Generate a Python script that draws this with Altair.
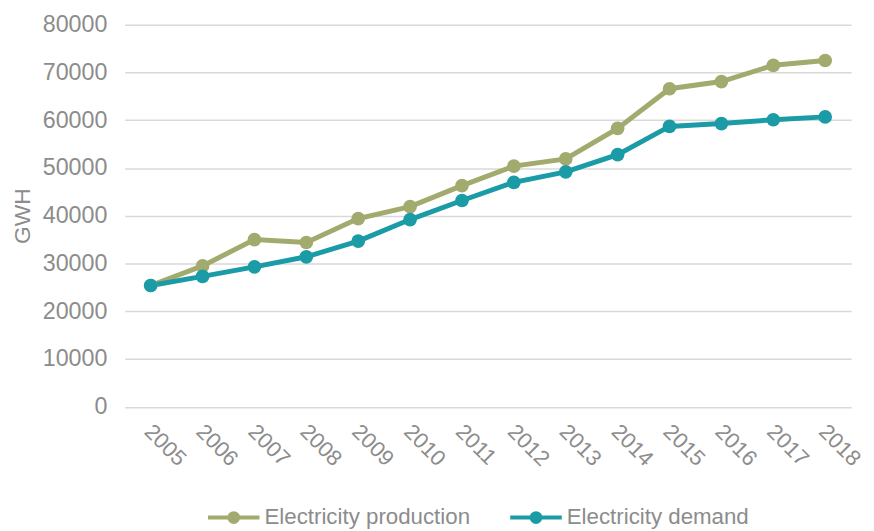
import altair as alt
import pandas as pd

years = [str(y) for y in range(2005, 2019)]
production = [25400, 29500, 35000, 34400, 39400, 41900, 46300, 50400, 51900, 58300, 66600, 68100, 71500, 72500]
demand = [25400, 27300, 29300, 31400, 34700, 39200, 43200, 47000, 49200, 52800, 58700, 59300, 60100, 60700]
series = ["Electricity production", "Electricity demand"]
colors = ["#A3AA6E", "#1A9BA6"]

rows = []
for i, y in enumerate(years):
    rows.append({"year": y, "series": series[0], "value": production[i]})
    rows.append({"year": y, "series": series[1], "value": demand[i]})
df = pd.DataFrame(rows)

legend_path = "M-1,0L1,0M-0.17,0A0.17,0.17 0 1 1 0.17,0A0.17,0.17 0 1 1 -0.17,0Z"
grey = "#8c8c8c"
font = "Liberation Sans"

chart = alt.Chart(df).mark_line(
    strokeWidth=5,
    point=alt.OverlayMarkDef(filled=True, size=190, opacity=1),
).encode(
    x=alt.X("year:O", title=None, sort=years,
            scale=alt.Scale(paddingOuter=0.5),
            axis=alt.Axis(labelAngle=45, labelAlign="left", labelBaseline="top",
                          labelPadding=14, labelOffset=4, ticks=False, domain=False,
                          labelFontSize=22, labelColor=grey, labelFont=font)),
    y=alt.Y("value:Q", title="GWH",
            scale=alt.Scale(domain=[0, 80000], nice=False),
            axis=alt.Axis(values=list(range(0, 80001, 10000)), format="d",
                          ticks=False, domain=False,
                          labelFontSize=23.5, labelColor=grey, labelFont=font,
                          labelPadding=18,
                          titleFontSize=23, titleColor=grey, titleFont=font,
                          titleFontWeight="normal", titlePadding=8,
                          gridColor="#d9d9d9", gridWidth=1.5)),
    color=alt.Color("series:N", sort=series, title=None,
                    scale=alt.Scale(domain=series, range=colors),
                    legend=alt.Legend(orient="none", direction="horizontal",
                                      legendX=82, legendY=469,
                                      symbolType=legend_path, symbolSize=2704,
                                      symbolStrokeWidth=4, labelLimit=400,
                                      labelFontSize=22.5, labelColor=grey, labelOffset=3,
                                      labelFont=font, columnPadding=32)),
).properties(
    width=733, height=385.5,
    autosize=alt.AutoSizeParams(type="none"),
    padding={"left": 117.8, "top": 14.5, "right": 15, "bottom": 123}
).configure_view(stroke=None).configure_axisX(grid=False)

chart.save("out.html", embed_options={"renderer": "svg", "actions": False})
